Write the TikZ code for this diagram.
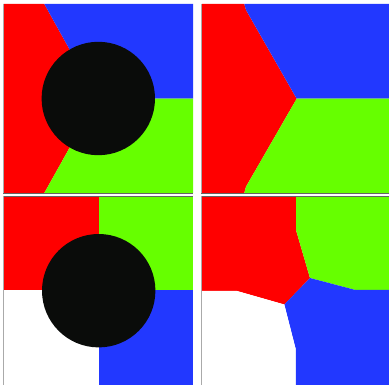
\documentclass[tikz,border=0pt]{standalone}
\definecolor{rRed}{RGB}{255,0,0}
\definecolor{rBlue}{RGB}{34,56,255}
\definecolor{rGreen}{RGB}{102,255,0}
\definecolor{rBlack}{RGB}{10,12,10}
\definecolor{rEdge}{RGB}{100,100,100}
\definecolor{rEdgeL}{RGB}{170,170,170}
\tikzset{
  region/.style={draw=none},
  disc/.style={fill=rBlack,draw=none},
  edgeh/.style={draw=rEdge,line width=1.1pt},
  edgev/.style={draw=rEdgeL,line width=1.1pt}
}
\begin{document}
\begin{tikzpicture}[x=1pt,y=-1pt]
\useasboundingbox (0,0) rectangle (389,385);
% ---------- panel 1 (top left) ----------
\fill[rRed]   (3.5,4) -- (44.3,4) -- (97,98.7) -- (44.3,193) -- (3.5,193) -- cycle;
\fill[rBlue]  (44.3,4) -- (193,4) -- (193,98.7) -- (97,98.7) -- cycle;
\fill[rGreen] (97,98.7) -- (193,98.7) -- (193,193) -- (44.3,193) -- cycle;
\fill[disc] (98.3,98.5) circle (56.7);
\draw[edgev] (3.3,4) -- (3.3,193);
\draw[edgeh] (3,193.3) -- (193,193.3);
% ---------- panel 2 (top right) ----------
\fill[rRed]   (202,4) -- (244.3,4) -- (246,10) -- (296.7,98.7) -- (246,186.7) -- (244.3,193) -- (202,193) -- cycle;
\fill[rBlue]  (244.3,4) -- (389,4) -- (389,98.7) -- (296.7,98.7) -- (246,10) -- cycle;
\fill[rGreen] (296.7,98.7) -- (389,98.7) -- (389,193) -- (244.3,193) -- (246,186.7) -- cycle;
\draw[edgev] (201.3,4) -- (201.3,193);
\draw[edgeh] (201,193.3) -- (389,193.3);
% ---------- panel 3 (bottom left) ----------
\fill[rRed]   (3.5,197) rectangle (98.7,290.5);
\fill[rGreen] (98.7,197) rectangle (193,290.5);
\fill[white]  (3.5,290.5) rectangle (98.7,385);
\fill[rBlue]  (98.7,290.5) rectangle (193,385);
\fill[disc] (98.7,290.7) circle (56.7);
\draw[edgeh] (3,196.2) -- (193,196.2);
\draw[edgev] (3.3,196.2) -- (3.3,385);
% ---------- panel 4 (bottom right) ----------
\coordinate (A) at (296,197);
\coordinate (B) at (296,230);
\coordinate (C) at (310,278);
\coordinate (D) at (355.5,290);
\coordinate (E) at (389,290);
\coordinate (F) at (284.3,304.5);
\coordinate (G) at (237,291);
\coordinate (H) at (202,291);
\coordinate (I) at (295.7,349);
\coordinate (J) at (295.7,385);
\fill[rRed]   (202,197) -- (A) -- (B) -- (C) -- (F) -- (G) -- (H) -- cycle;
\fill[rGreen] (A) -- (389,197) -- (E) -- (D) -- (C) -- (B) -- cycle;
\fill[rBlue]  (C) -- (D) -- (E) -- (389,385) -- (J) -- (I) -- (F) -- cycle;
\fill[white]  (H) -- (G) -- (F) -- (I) -- (J) -- (202,385) -- cycle;
\draw[edgeh] (201,196.2) -- (389,196.2);
\draw[edgev] (201.3,196.2) -- (201.3,385);
\end{tikzpicture}
\end{document}
